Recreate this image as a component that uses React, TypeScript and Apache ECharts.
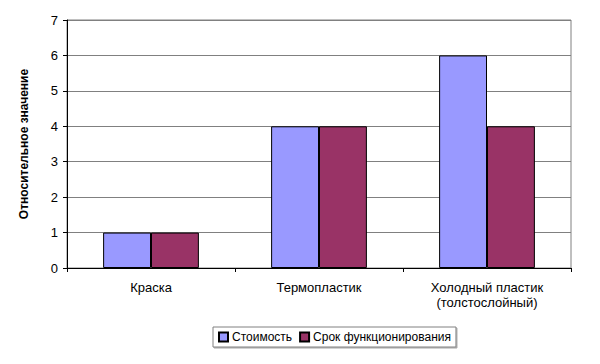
import React, { useEffect, useRef } from "react";
import * as echarts from "echarts";

const categories = ["Краска", "Термопластик", "Холодный пластик\n(толстослойный)"];
const costValues = [1, 4, 6];
const lifeValues = [1, 4, 4];
const seriesNames = ["Стоимость", "Срок функционирования"];
const yTitle = "Относительное значение";

export default function App() {
  const ref = useRef<HTMLDivElement>(null);
  useEffect(() => {
    const chart = echarts.init(ref.current!, null, { renderer: "svg" });
    const font = "'Liberation Sans', Arial, sans-serif";
    chart.setOption({
      animation: false,
      backgroundColor: "#fff",
      textStyle: { fontFamily: font, color: "#000" },
      grid: {
        left: 67,
        right: 29,
        top: 20,
        bottom: 96,
        show: true,
        borderColor: "#808080",
        borderWidth: 1,
        containLabel: false,
      },
      legend: {
        data: seriesNames,
        top: 327,
        left: 213,
        itemWidth: 9,
        itemHeight: 9,
        itemGap: 7,
        icon: "rect",
        borderColor: "#808080",
        borderWidth: 1,
        padding: [4, 5, 4, 5],
        shadowColor: "rgba(0,0,0,0.35)",
        shadowOffsetX: 1,
        shadowOffsetY: 1,
        shadowBlur: 1,
        backgroundColor: "#fff",
        textStyle: { fontFamily: font, fontSize: 12, color: "#000", padding: [0, 0, 0, -1] },
      },
      xAxis: {
        type: "category",
        data: categories,
        axisLine: { lineStyle: { color: "#000", width: 1 } },
        axisTick: { show: true, alignWithLabel: false, length: 4, lineStyle: { color: "#000" } },
        axisLabel: { fontFamily: font, fontSize: 13, color: "#000", margin: 12, lineHeight: 15 },
      },
      yAxis: {
        type: "value",
        min: 0,
        max: 7,
        interval: 1,
        name: yTitle,
        nameLocation: "middle",
        nameGap: 37,
        nameTextStyle: { fontFamily: font, fontSize: 12, fontWeight: "bold", color: "#000" },
        axisLine: { show: true, lineStyle: { color: "#000", width: 1 } },
        axisTick: { show: true, length: 4, lineStyle: { color: "#000" } },
        axisLabel: { fontFamily: font, fontSize: 13, color: "#000", margin: 9 },
        splitLine: { show: true, lineStyle: { color: "#808080", width: 1 } },
      },
      series: [
        {
          name: seriesNames[0],
          type: "bar",
          data: costValues,
          barGap: "0%",
          barCategoryGap: "43%",
          itemStyle: { color: "#9999FF", borderColor: "#000", borderWidth: 1 },
        },
        {
          name: seriesNames[1],
          type: "bar",
          data: lifeValues,
          barGap: "0%",
          barCategoryGap: "43%",
          itemStyle: { color: "#993366", borderColor: "#000", borderWidth: 1 },
        },
      ],
    });
    return () => chart.dispose();
  }, []);
  return <div ref={ref} style={{ width: 600, height: 364, position: "absolute", left: 0, top: 0 }} />;
}
